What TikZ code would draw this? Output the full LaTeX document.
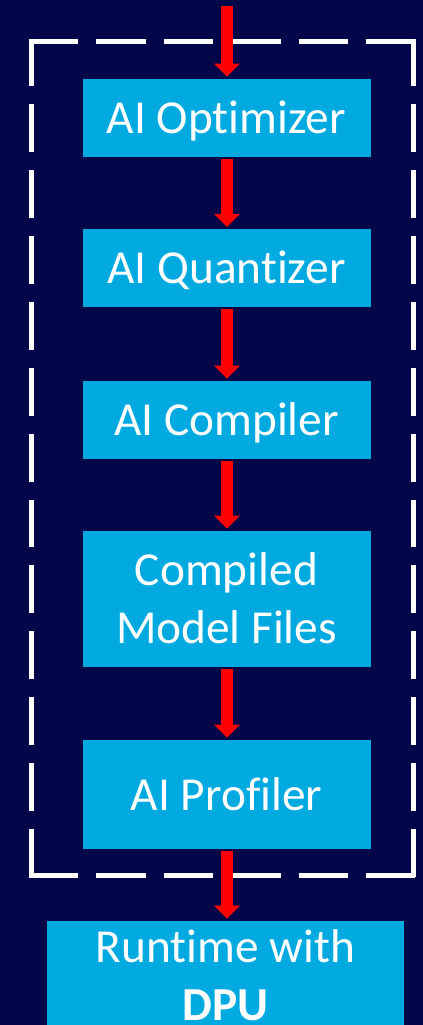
\documentclass[tikz,border=0pt]{standalone}
\usepackage{fontspec}
\setmainfont{Carlito}[Ligatures=NoCommon]
\usetikzlibrary{arrows.meta}
\definecolor{bg}{RGB}{3,6,72}
\definecolor{boxc}{RGB}{0,170,224}
\definecolor{arr}{RGB}{255,0,0}
\begin{document}
\begin{tikzpicture}[x=0.75pt,y=-0.75pt,
  box/.style={fill=boxc,draw=none,inner sep=0pt,minimum width=216pt},
  txt/.style={text=white,font=\fontsize{35.5}{43.5}\selectfont,anchor=base,inner sep=0pt},
  flow/.style={draw=arr,line width=9pt,-{Triangle[width=18.75pt,length=9.75pt]},shorten >=1.5pt,shorten <=1.5pt},
  frameh/.style={draw=white,line width=3.75pt,dash pattern=on 37.05pt off 13.5pt},
  framev/.style={draw=white,line width=3.75pt,dash pattern=on 35.9pt off 13.5pt}]
\path[use as bounding box,fill=bg] (0,0) rectangle (423,1025);
% dashed frame
\draw[frameh] (29,41) -- (415.5,41);
\draw[frameh] (29,875) -- (415.5,875);
\draw[framev] (31.5,38.5) -- (31.5,877.5);
\draw[framev] (413,38.5) -- (413,877.5);
% boxes
\node[box,minimum height=58.5pt] (b1) at (227,118) {};
\node[box,minimum height=58.3pt] (b2) at (227,268) {};
\node[box,minimum height=58.5pt] (b3) at (227,420) {};
\node[box,minimum height=102pt] (b4) at (227,599) {};
\node[box,minimum height=81.75pt] (b5) at (227,794.5) {};
\node[box,minimum height=81.75pt,minimum width=267.75pt] (b6) at (225.5,975.5) {};
% texts
\node[txt] (t1) at (226.5,133.3) {AI Optimizer};
\node[txt] (t2) at (226.5,283.3) {AI Quantizer};
\node[txt] (t3) at (226.5,435) {AI Compiler};
\node[txt] (t4a) at (226.5,585) {Compiled};
\node[txt] (t4b) at (226.5,643) {Model Files};
\node[txt] (t5) at (226.5,810) {AI Profiler};
\node[txt] (t6a) at (225.5,962.7) {Runtime with};
\node[txt] (t6b) at (225.5,1020) {\bfseries DPU};
% arrows
\coordinate (in) at (227,5.5);
\draw[flow,shorten <=0pt] (in) -- (b1.north);
\draw[flow] (b1.south) -- (b2.north);
\draw[flow] (b2.south) -- (b3.north);
\draw[flow] (b3.south) -- (b4.north);
\draw[flow] (b4.south) -- (b5.north);
\draw[flow] (b5.south) -- (b5.south |- b6.north);
\end{tikzpicture}
\end{document}
